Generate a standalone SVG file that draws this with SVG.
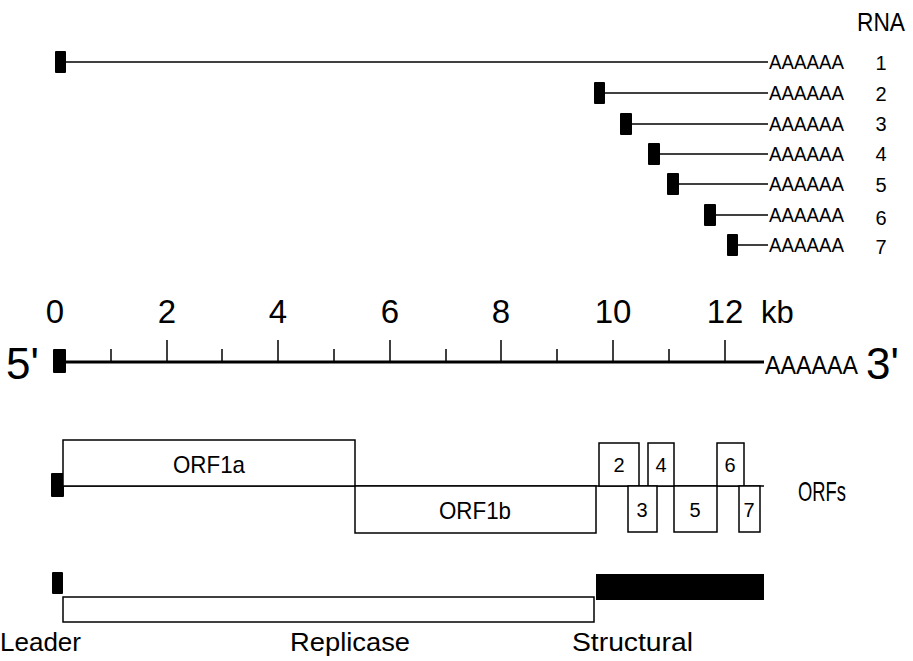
<svg xmlns="http://www.w3.org/2000/svg" width="913" height="661" viewBox="0 0 913 661">
<style>
text{font-family:"Liberation Sans",Arial,sans-serif;fill:#000}
.poly{font-size:20px}
.num{font-size:20px;text-anchor:middle}
.tick{font-size:33px;text-anchor:middle}
.big{font-size:44px}
.lbl{font-size:26px}
.box{font-size:20px;text-anchor:middle}
.orf{fill:#fff;stroke:#000;stroke-width:1.5}
.ldr{fill:#000}
.thin{stroke:#000;stroke-width:1.5;fill:none}
</style>
<rect width="913" height="661" fill="#fff"/>
<g id="rna-header"><text x="857" y="31" style="font-size:25px" textLength="48" lengthAdjust="spacingAndGlyphs">RNA</text></g>
<g id="connectors">
<line class="thin" x1="66" y1="62" x2="768" y2="62"/>
<line class="thin" x1="605" y1="93" x2="768" y2="93"/>
<line class="thin" x1="632" y1="124" x2="768" y2="124"/>
<line class="thin" x1="660" y1="154" x2="768" y2="154"/>
<line class="thin" x1="679" y1="184" x2="768" y2="184"/>
<line class="thin" x1="716" y1="215" x2="768" y2="215"/>
<line class="thin" x1="738" y1="245" x2="768" y2="245"/>
</g>
<g id="rna1"><rect class="ldr" x="55" y="51" width="11" height="22" rx="1"/><text class="poly" x="769" y="69" textLength="75" lengthAdjust="spacingAndGlyphs">AAAAAA</text><text class="num" x="881" y="70">1</text></g>
<g id="rna2"><rect class="ldr" x="594" y="82" width="11" height="22" rx="1"/><text class="poly" x="769" y="100" textLength="75" lengthAdjust="spacingAndGlyphs">AAAAAA</text><text class="num" x="881" y="101">2</text></g>
<g id="rna3"><rect class="ldr" x="620" y="113" width="12" height="22" rx="1"/><text class="poly" x="769" y="131" textLength="75" lengthAdjust="spacingAndGlyphs">AAAAAA</text><text class="num" x="881" y="131">3</text></g>
<g id="rna4"><rect class="ldr" x="648" y="143" width="12" height="22" rx="1"/><text class="poly" x="769" y="161" textLength="75" lengthAdjust="spacingAndGlyphs">AAAAAA</text><text class="num" x="881" y="161">4</text></g>
<g id="rna5"><rect class="ldr" x="667" y="173" width="12" height="22" rx="1"/><text class="poly" x="769" y="191" textLength="75" lengthAdjust="spacingAndGlyphs">AAAAAA</text><text class="num" x="881" y="192">5</text></g>
<g id="rna6"><rect class="ldr" x="704" y="204" width="12" height="22" rx="1"/><text class="poly" x="769" y="222" textLength="75" lengthAdjust="spacingAndGlyphs">AAAAAA</text><text class="num" x="881" y="225">6</text></g>
<g id="rna7"><rect class="ldr" x="727" y="234" width="11" height="22" rx="1"/><text class="poly" x="769" y="252" textLength="75" lengthAdjust="spacingAndGlyphs">AAAAAA</text><text class="num" x="881" y="254">7</text></g>

<g id="scale">
<text class="tick" x="55" y="323">0</text>
<text class="tick" x="167" y="323">2</text>
<text class="tick" x="278" y="323">4</text>
<text class="tick" x="390" y="323">6</text>
<text class="tick" x="501" y="323">8</text>
<text class="tick" x="613" y="323">10</text>
<text class="tick" x="725" y="323">12</text>
<text x="761" y="323" style="font-size:31px">kb</text>
<line x1="60" y1="362" x2="764" y2="362" stroke="#000" stroke-width="3"/>
<g stroke="#000" stroke-width="1.5">
<line x1="167" y1="340" x2="167" y2="362"/><line x1="278" y1="340" x2="278" y2="362"/>
<line x1="390" y1="340" x2="390" y2="362"/><line x1="501" y1="340" x2="501" y2="362"/>
<line x1="613" y1="340" x2="613" y2="362"/><line x1="725" y1="340" x2="725" y2="362"/>
<line x1="111" y1="349" x2="111" y2="362"/><line x1="222" y1="349" x2="222" y2="362"/>
<line x1="334" y1="349" x2="334" y2="362"/><line x1="446" y1="349" x2="446" y2="362"/>
<line x1="557" y1="349" x2="557" y2="362"/><line x1="669" y1="349" x2="669" y2="362"/>
</g>
<rect class="ldr" x="53" y="349" width="13" height="24" rx="1"/>
<text class="big" x="6" y="379">5'</text>
<text x="765" y="374" style="font-size:25px" textLength="93" lengthAdjust="spacingAndGlyphs">AAAAAA</text>
<text class="big" x="866" y="379">3'</text>
</g>

<g id="orfs">
<line class="thin" x1="60" y1="486" x2="764" y2="486"/>
<rect class="ldr" x="51" y="473" width="13" height="24" rx="1"/>
<g id="orf1a"><rect class="orf" x="63" y="440" width="292" height="46"/><text x="209" y="473" style="font-size:24px;text-anchor:middle" textLength="72" lengthAdjust="spacingAndGlyphs">ORF1a</text></g>
<g id="orf1b"><rect class="orf" x="355" y="486" width="241" height="47"/><text x="475" y="519" style="font-size:24px;text-anchor:middle" textLength="72" lengthAdjust="spacingAndGlyphs">ORF1b</text></g>
<g id="orf2"><rect class="orf" x="599" y="443" width="40" height="43"/><text class="box" x="619" y="472">2</text></g>
<g id="orf4"><rect class="orf" x="648" y="443" width="26" height="43"/><text class="box" x="661" y="472">4</text></g>
<g id="orf6"><rect class="orf" x="717" y="443" width="27" height="43"/><text class="box" x="730" y="472">6</text></g>
<g id="orf3"><rect class="orf" x="628" y="486" width="29" height="46"/><text class="box" x="642" y="517">3</text></g>
<g id="orf5"><rect class="orf" x="674" y="486" width="43" height="46"/><text class="box" x="695" y="517">5</text></g>
<g id="orf7"><rect class="orf" x="739" y="486" width="21" height="46"/><text class="box" x="749" y="517">7</text></g>
<text x="798" y="501" style="font-size:28px" textLength="48" lengthAdjust="spacingAndGlyphs">ORFs</text>
</g>

<g id="products">
<g id="leader"><rect class="ldr" x="52" y="572" width="11" height="22" rx="1"/><text class="lbl" x="0" y="651">Leader</text></g>
<g id="replicase"><rect class="orf" x="63" y="597" width="531" height="25"/><text class="lbl" x="290" y="651" textLength="120" lengthAdjust="spacingAndGlyphs">Replicase</text></g>
<g id="structural"><rect x="596" y="574" width="168" height="26" fill="#000"/><text class="lbl" x="572" y="651" textLength="121" lengthAdjust="spacingAndGlyphs">Structural</text></g>
</g>
</svg>
